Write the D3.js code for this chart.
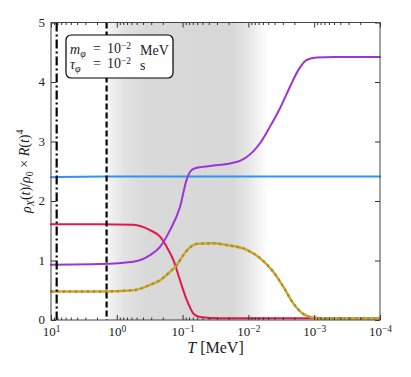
<!DOCTYPE html>
<meta charset="utf-8">
<style>
  body { margin: 0; background: #fff; }
  * { font-family: "Liberation Serif", serif; }
  .axis path, .axis line { stroke: #333; }
  .axis text { font-size: 13px; fill: #222; }
  .line { fill: none; stroke-width: 2px; stroke-linejoin: round; stroke-linecap: round; }
</style>
<body>
<script src="https://d3js.org/d3.v7.min.js"></script>
<script>

// values: log10(T / MeV) and rho_X/rho_0 * R^4
var purpleLogT = [1.0, 0.255, -0.251, -0.505, -0.657, -0.809, -0.960, -1.062, -1.12, -1.19, -1.42, -1.72, -1.87, -1.974, -2.07, -2.176, -2.328, -2.48, -2.632, -2.758, -2.886, -3.038, -3.3, -4.0];
var purpleVals = [0.93, 0.94, 0.98, 1.09, 1.23, 1.51, 1.90, 2.36, 2.50, 2.55, 2.59, 2.63, 2.675, 2.74, 2.83, 2.97, 3.25, 3.56, 3.92, 4.20, 4.37, 4.41, 4.42, 4.42];

var redLogT = [1.0, 0.255, -0.251, -0.505, -0.657, -0.758, -0.859, -0.960, -1.062, -1.163, -1.264, -1.568, -4.0];
var redVals = [1.61, 1.61, 1.60, 1.51, 1.40, 1.23, 1.01, 0.67, 0.34, 0.11, 0.05, 0.03, 0.03];

var orangeLogT = [1.0, 0.255, -0.251, -0.505, -0.657, -0.809, -0.910, -1.011, -1.112, -1.214, -1.467, -1.67, -1.974, -2.176, -2.378, -2.530, -2.682, -2.834, -2.986, -3.2, -4.0];
var orangeVals = [0.48, 0.48, 0.50, 0.59, 0.67, 0.81, 0.92, 1.09, 1.22, 1.28, 1.29, 1.26, 1.18, 1.04, 0.81, 0.56, 0.28, 0.10, 0.04, 0.03, 0.03];

var blueLogT = [1.0, 0.2, -4.0];
var blueVals = [2.40, 2.41, 2.41];

var dashDotT = 8.2;   // MeV
var dashedT = 1.43;   // MeV
var shadeLogT = [0.155, -2.30]; // grey band edges

var xMajor = [1e1, 1e0, 1e-1, 1e-2, 1e-3, 1e-4];
var xExp = [1, 0, -1, -2, -3, -4];
var yTicks = [0, 1, 2, 3, 4, 5];

var W = 411, H = 377;
var margin = {top: 22.5, right: 31, bottom: 57, left: 51};
var width = W - margin.left - margin.right,
    height = H - margin.top - margin.bottom;

var svg = d3.select("body").append("svg").attr("width", W).attr("height", H);
var g = svg.append("g").attr("transform", "translate(" + margin.left + "," + margin.top + ")");

var x = d3.scaleLog().domain([10, 1e-4]).range([0, width]);
var y = d3.scaleLinear().domain([0, 5]).range([height, 0]);

// grey shaded region with soft edges
var defs = svg.append("defs");
var x0 = x(Math.pow(10, shadeLogT[0])), x1 = x(Math.pow(10, shadeLogT[1]));
var span = x1 - x0;
var grad = defs.append("linearGradient").attr("id", "shade")
  .attr("gradientUnits", "userSpaceOnUse")
  .attr("x1", x0).attr("x2", x1).attr("y1", 0).attr("y2", 0);
[[0, "#f6f6f6"], [18, "#e2e2e2"], [40, "#d9d9d9"], [span - 36, "#d8d8d8"], [span - 20, "#e6e6e6"], [span, "#ffffff"]]
  .forEach(function(s) {
    grad.append("stop").attr("offset", (s[0] / span)).attr("stop-color", s[1]);
  });
g.append("rect").attr("x", x0).attr("y", 0).attr("width", span).attr("height", height)
  .attr("fill", "url(#shade)");

var line = d3.line()
  .curve(d3.curveMonotoneX)
  .x(function(d) { return x(Math.pow(10, d[0])); })
  .y(function(d) { return y(d[1]); });

function pts(lt, v) { return lt.map(function(t, i) { return [t, v[i]]; }); }

g.append("path").attr("class", "line").attr("d", line(pts(blueLogT, blueVals))).style("stroke", "#2f94f5");
g.append("path").attr("class", "line").attr("d", line(pts(redLogT, redVals))).style("stroke", "#e0194a");
g.append("path").attr("class", "line").attr("d", line(pts(purpleLogT, purpleVals))).style("stroke", "#9b35d6");
g.append("path").attr("class", "line").attr("d", line(pts(orangeLogT, orangeVals))).style("stroke", "#ff9408").style("stroke-width", "2.4px");
g.append("path").attr("class", "line").attr("d", line(pts(orangeLogT, orangeVals)))
  .style("stroke", "#3bb27a").style("stroke-width", "2.4px").style("stroke-linecap", "butt")
  .attr("stroke-dasharray", "2,4");

// vertical markers
g.append("line").attr("x1", x(dashDotT)).attr("x2", x(dashDotT)).attr("y1", 0).attr("y2", height)
  .attr("stroke", "#000").attr("stroke-width", 2.2).attr("stroke-dasharray", "9,3,2,3");
g.append("line").attr("x1", x(dashedT)).attr("x2", x(dashedT)).attr("y1", 0).attr("y2", height)
  .attr("stroke", "#000").attr("stroke-width", 2.2).attr("stroke-dasharray", "6,3");

// minor ticks
var xMinor = [];
for (var e = 0; e > -5; e--) for (var k = 2; k < 10; k++) xMinor.push(k * Math.pow(10, e));
xMinor = xMinor.filter(function(v) { return v <= 10 && v >= 1e-4; });

g.append("g").attr("class", "axis").attr("transform", "translate(0," + height + ")")
  .call(d3.axisBottom(x).tickValues(xMinor).tickSize(-2.5).tickFormat(""));
g.append("g").attr("class", "axis")
  .call(d3.axisTop(x).tickValues(xMinor).tickSize(-2.5).tickFormat(""));
g.append("g").attr("class", "axis")
  .call(d3.axisTop(x).tickValues(xMajor).tickSize(-5).tickFormat(""));
g.append("g").attr("class", "axis").attr("transform", "translate(" + width + ",0)")
  .call(d3.axisRight(y).tickValues(yTicks).tickSize(-5).tickFormat(""));

var xAxis = g.append("g").attr("class", "axis").attr("transform", "translate(0," + height + ")")
  .call(d3.axisBottom(x).tickValues(xMajor).tickSize(-5).tickPadding(7).tickFormat(""));
xAxis.selectAll(".tick text").each(function(d, i) {
  var t = d3.select(this);
  t.append("tspan").text("10");
  t.append("tspan").attr("dy", "-0.4em").style("font-size", "9.5px")
    .text(xExp[i] < 0 ? "\u2212" + (-xExp[i]) : xExp[i]);
});

var yAxis = g.append("g").attr("class", "axis")
  .call(d3.axisLeft(y).tickValues(yTicks).tickSize(-5).tickPadding(6).tickFormat(d3.format("d")));
yAxis.selectAll(".tick text").attr("dy", "0.3em");

g.selectAll(".axis .domain").remove();
g.append("rect").attr("width", width).attr("height", height)
  .attr("fill", "none").attr("stroke", "#444").attr("stroke-width", 1);

// axis titles
var xl = svg.append("text").attr("x", margin.left + width / 2).attr("y", 353)
  .attr("text-anchor", "middle").style("font-size", "16px").attr("fill", "#222");
xl.append("tspan").style("font-style", "italic").text("T");
xl.append("tspan").text(" [MeV]");

var yl = svg.append("text")
  .attr("transform", "translate(31," + (margin.top + height / 2) + ") rotate(-90)")
  .attr("text-anchor", "middle").style("font-size", "14px").attr("fill", "#222");
yl.append("tspan").style("font-style", "italic").text("\u03c1");
yl.append("tspan").style("font-style", "italic").style("font-size", "10px").attr("dy", "0.3em").text("X");
yl.append("tspan").attr("dy", "-0.3em").text("(");
yl.append("tspan").style("font-style", "italic").text("t");
yl.append("tspan").text(")/");
yl.append("tspan").style("font-style", "italic").text("\u03c1");
yl.append("tspan").style("font-size", "10px").attr("dy", "0.3em").text("0");
yl.append("tspan").attr("dy", "-0.3em").text(" \u00d7 ");
yl.append("tspan").style("font-style", "italic").text("R");
yl.append("tspan").text("(");
yl.append("tspan").style("font-style", "italic").text("t");
yl.append("tspan").text(")");
yl.append("tspan").style("font-size", "10px").attr("dy", "-0.55em").text("4");

// annotation box
var box = svg.append("g").attr("transform", "translate(66,35)");
box.append("rect").attr("width", 107).attr("height", 43).attr("rx", 5)
  .attr("fill", "#fff").attr("stroke", "#000").attr("stroke-width", 1.2);

function boxLine(yb, sym, unit) {
  var t = box.append("text").attr("y", yb).style("font-size", "14px").attr("fill", "#222");
  t.append("tspan").attr("x", 4).style("font-style", "italic").text(sym);
  t.append("tspan").style("font-style", "italic").style("font-size", "10px").attr("dy", "0.3em").text("\u03c6");
  t.append("tspan").attr("x", 27).attr("dy", "-0.3em").text("=");
  t.append("tspan").attr("x", 41).text("10");
  t.append("tspan").style("font-size", "9.5px").attr("dy", "-0.45em").text("\u22122");
  t.append("tspan").attr("x", 74).attr("dy", "0.45em").text(unit);
}
boxLine(19, "m", "MeV");
boxLine(34, "\u03c4", "s");

</script>
